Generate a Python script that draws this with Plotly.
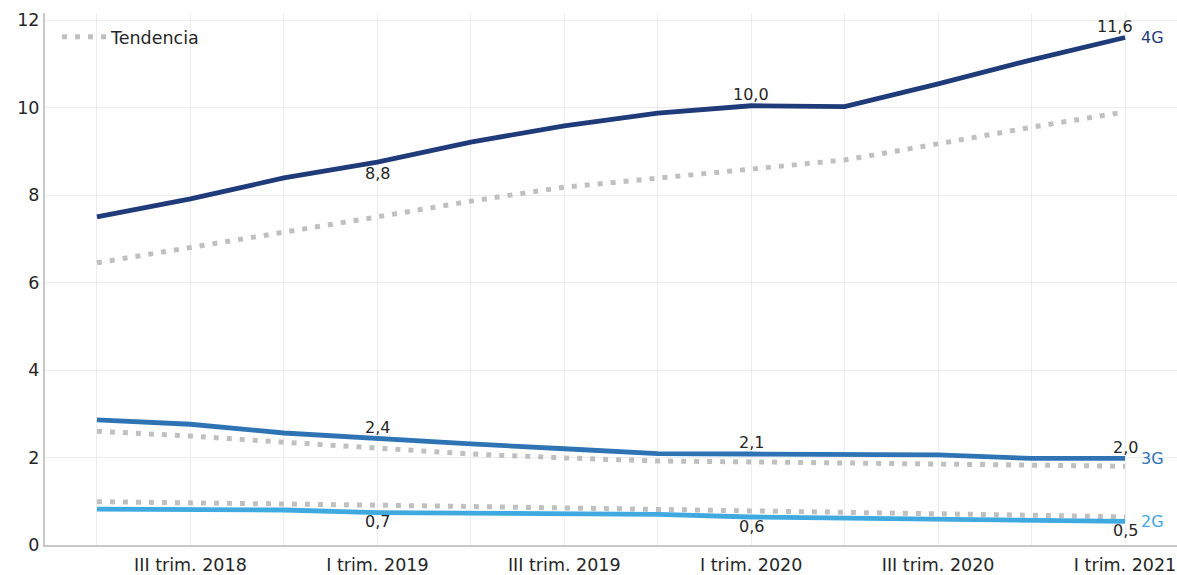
import plotly.graph_objects as go

quarters = ["II trim. 2018", "III trim. 2018", "IV trim. 2018", "I trim. 2019", "II trim. 2019",
            "III trim. 2019", "IV trim. 2019", "I trim. 2020", "II trim. 2020", "III trim. 2020",
            "IV trim. 2020", "I trim. 2021"]
shown_ticks = ["", "III trim. 2018", "", "I trim. 2019", "", "III trim. 2019", "",
               "I trim. 2020", "", "III trim. 2020", "", "I trim. 2021"]

g4 = [7.5, 7.91, 8.39, 8.75, 9.21, 9.58, 9.87, 10.04, 10.02, 10.54, 11.09, 11.6]
g3 = [2.86, 2.76, 2.56, 2.43, 2.31, 2.2, 2.09, 2.08, 2.08, 2.06, 1.98, 1.98]
g2 = [0.82, 0.82, 0.8, 0.74, 0.73, 0.72, 0.7, 0.64, 0.61, 0.6, 0.57, 0.54]

t4 = [6.45, 6.81, 7.15, 7.5, 7.86, 8.18, 8.39, 8.59, 8.8, 9.17, 9.55, 9.9]
t3 = [2.6, 2.49, 2.35, 2.22, 2.08, 1.99, 1.92, 1.9, 1.87, 1.85, 1.83, 1.8]
t2 = [0.99, 0.97, 0.94, 0.91, 0.88, 0.85, 0.82, 0.78, 0.75, 0.72, 0.68, 0.64]

series = [("4G", g4, t4, "#1f3b7a"),
          ("3G", g3, t3, "#2e74b5"),
          ("2G", g2, t2, "#3fa9e0")]
label_idx = [3, 7, 11]
# vertical offset (px) of each value label relative to its point
label_shift = {"4G": [-11, 11, 11], "3G": [11, 12, 11], "2G": [-9, -9, -9]}
label_xshift = {"4G": [0, 0, -10], "3G": [0, 0, 0], "2G": [0, 0, 0]}

x = list(range(len(quarters)))
FONT = "DejaVu Sans"
TXT = "#262626"

fig = go.Figure()
for i, (name, vals, trend, col) in enumerate(series):
    fig.add_trace(go.Scatter(x=x, y=trend, mode="lines", name="Tendencia",
                             line=dict(color="#c0c0c0", width=5, dash="5px,8px"),
                             showlegend=(i == 0), hoverinfo="skip"))
for name, vals, trend, col in series:
    fig.add_trace(go.Scatter(x=x, y=vals, mode="lines", name=name,
                             line=dict(color=col, width=4.8), showlegend=False))
    for j, k in enumerate(label_idx):
        fig.add_annotation(x=x[k], y=vals[k], text=f"{vals[k]:.1f}".replace(".", ","),
                           showarrow=False, xanchor="center", yanchor="middle",
                           yshift=label_shift[name][j], xshift=label_xshift[name][j],
                           font=dict(family=FONT, size=16, color=TXT))
    fig.add_annotation(x=x[-1], y=vals[-1], text=name, showarrow=False,
                       xanchor="left", xshift=14, yanchor="middle",
                       font=dict(family=FONT, size=16, color=col))

fig.update_layout(
    width=1177, height=575,
    margin=dict(l=45, r=0, t=13, b=30),
    paper_bgcolor="white", plot_bgcolor="white",
    font=dict(family=FONT, size=17, color=TXT),
    legend=dict(x=0.0106, y=0.989, xanchor="left", yanchor="top", itemwidth=44,
                font=dict(family=FONT, size=17.5, color=TXT), bgcolor="rgba(0,0,0,0)"),
    xaxis=dict(tickmode="array", tickvals=x, ticktext=shown_ticks, range=[-0.556, 11.556],
               showgrid=True, gridcolor="#ececec", gridwidth=1, zeroline=False,
               showline=True, linecolor="#c8c8c8", linewidth=2, ticks="", automargin=False,
               ticklabelstandoff=3,
               tickfont=dict(family=FONT, size=17.5, color=TXT)),
    yaxis=dict(range=[0, 12.16], tickvals=[0, 2, 4, 6, 8, 10, 12],
               showgrid=True, gridcolor="#ececec", gridwidth=1, zeroline=False,
               showline=True, linecolor="#c8c8c8", linewidth=2, ticks="", automargin=False,
               tickfont=dict(family=FONT, size=17.5, color=TXT)),
)

fig.write_html("out.html", config={"displayModeBar": False},
               post_script="document.body.style.margin='0';")
